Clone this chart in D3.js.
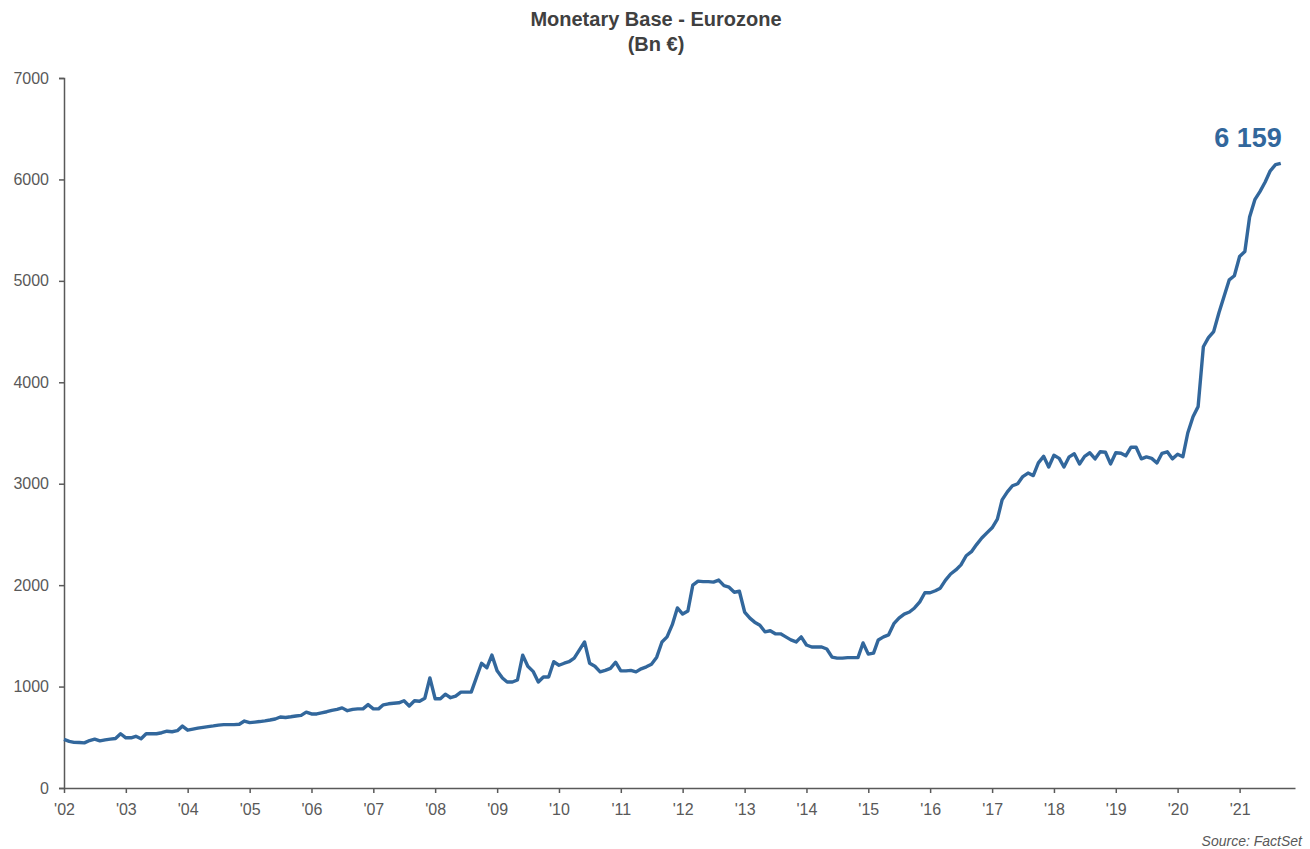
<!DOCTYPE html>
<html>
<head>
<meta charset="utf-8">
<script src="https://cdn.jsdelivr.net/npm/d3@7"></script>
<style>
  html, body { margin: 0; padding: 0; background: #ffffff; }
  svg { display: block; font-family: "Liberation Sans", Arial, sans-serif; }
</style>
</head>
<body>
<svg id="chart" width="1310" height="849"></svg>
<script>
// ---- Data (monthly, Jan 2002 - Sep 2021, Bn €) ----
const startYear = 2002;
const values2002 = [480, 460, 450, 448, 445, 468, 482, 465, 475, 482, 488, 535];
const values2003 = [495, 495, 510, 485, 535, 535, 535, 545, 560, 555, 565, 610];
const values2004 = [570, 580, 590, 598, 605, 612, 620, 625, 625, 625, 628, 660];
const values2005 = [645, 650, 655, 662, 670, 680, 700, 695, 702, 710, 716, 748];
const values2006 = [730, 730, 740, 752, 765, 775, 790, 762, 775, 780, 780, 822];
const values2007 = [780, 780, 820, 830, 835, 840, 860, 808, 860, 855, 885, 1085];
const values2008 = [880, 880, 925, 890, 905, 945, 945, 945, 1090, 1230, 1185, 1310];
const values2009 = [1155, 1085, 1045, 1045, 1065, 1310, 1200, 1150, 1045, 1095, 1095, 1245];
const values2010 = [1210, 1230, 1245, 1280, 1360, 1440, 1230, 1200, 1145, 1160, 1180, 1240];
const values2011 = [1155, 1155, 1160, 1145, 1175, 1195, 1220, 1290, 1440, 1490, 1610, 1775];
const values2012 = [1715, 1745, 2000, 2040, 2035, 2035, 2030, 2050, 1995, 1980, 1930, 1940];
const values2013 = [1735, 1675, 1635, 1605, 1540, 1550, 1520, 1520, 1490, 1460, 1440, 1490];
const values2014 = [1410, 1390, 1390, 1390, 1370, 1290, 1280, 1280, 1285, 1285, 1285, 1430];
const values2015 = [1320, 1330, 1460, 1490, 1510, 1620, 1675, 1715, 1735, 1775, 1835, 1925];
const values2016 = [1925, 1945, 1970, 2050, 2110, 2150, 2200, 2290, 2330, 2400, 2465, 2515];
const values2017 = [2565, 2650, 2840, 2920, 2980, 3000, 3070, 3105, 3080, 3205, 3270, 3165];
const values2018 = [3280, 3250, 3165, 3265, 3295, 3195, 3270, 3305, 3245, 3315, 3310, 3195];
const values2019 = [3305, 3300, 3275, 3360, 3360, 3245, 3265, 3250, 3205, 3300, 3315, 3245];
const values2020 = [3290, 3265, 3500, 3660, 3760, 4350, 4440, 4500, 4685, 4845, 5010, 5050];
const values2021 = [5240, 5290, 5630, 5800, 5880, 5975, 6085, 6145, 6159];

const yTicks = [0, 1000, 2000, 3000, 4000, 5000, 6000, 7000];
const xTickYears = d3.range(2002, 2022);
const titleLines = ["Monetary Base - Eurozone", "(Bn €)"];
const lastLabel = "6 159";
const sourceText = "Source: FactSet";

// ---- Build series ----
const allValues = [].concat(values2002, values2003, values2004, values2005, values2006,
  values2007, values2008, values2009, values2010, values2011, values2012, values2013,
  values2014, values2015, values2016, values2017, values2018, values2019, values2020, values2021);
const data = allValues.map((v, i) => ({ date: new Date(startYear, i, 1), value: v }));

// ---- Layout ----
const svg = d3.select("#chart");
const axisColor = "#595959";
const lineColor = "#32679c";

const x = d3.scaleTime()
  .domain([new Date(2002, 0, 1), new Date(2021, 10, 24)])
  .range([64, 1295]);
const y = d3.scaleLinear().domain([0, 7000]).range([788, 78]);

// Title
svg.append("text")
  .attr("x", 656).attr("y", 26)
  .attr("text-anchor", "middle")
  .attr("font-size", 20).attr("font-weight", "bold")
  .attr("fill", "#404040")
  .text(titleLines[0]);
svg.append("text")
  .attr("x", 656).attr("y", 51)
  .attr("text-anchor", "middle")
  .attr("font-size", 20).attr("font-weight", "bold")
  .attr("fill", "#404040")
  .text(titleLines[1]);

// Y axis
const yAxis = d3.axisLeft(y).tickValues(yTicks).tickSize(5).tickPadding(10).tickFormat(d3.format("d"));
const gy = svg.append("g").attr("transform", "translate(64,0)").call(yAxis);
gy.select(".domain").attr("stroke", axisColor).attr("stroke-width", 1.5);
gy.selectAll(".tick line").attr("stroke", axisColor).attr("stroke-width", 1.5);
gy.selectAll(".tick text").attr("fill", "#595959").attr("font-size", 16)
  .attr("font-family", "Liberation Sans, Arial, sans-serif");

// X axis
const xAxis = d3.axisBottom(x)
  .tickValues(xTickYears.map(yr => new Date(yr, 0, 1)))
  .tickSize(5).tickSizeOuter(0).tickPadding(11)
  .tickFormat(d3.timeFormat("'%y"));
const gx = svg.append("g").attr("transform", "translate(0,788)").call(xAxis);
gx.select(".domain").attr("stroke", axisColor).attr("stroke-width", 1.5);
gx.selectAll(".tick line").attr("stroke", axisColor).attr("stroke-width", 1.5);
gx.selectAll(".tick text").attr("fill", "#595959").attr("font-size", 16)
  .attr("font-family", "Liberation Sans, Arial, sans-serif");

// Line
const line = d3.line().x(d => x(d.date)).y(d => y(d.value));
svg.append("path")
  .datum(data)
  .attr("fill", "none")
  .attr("stroke", lineColor)
  .attr("stroke-width", 3.4)
  .attr("stroke-linejoin", "round")
  .attr("d", line);

// Last value label
const last = data[data.length - 1];
svg.append("text")
  .attr("x", x(last.date) + 1)
  .attr("y", y(last.value) - 16)
  .attr("text-anchor", "end")
  .attr("font-size", 27).attr("font-weight", "bold")
  .attr("fill", lineColor)
  .text(lastLabel);

// Source
svg.append("text")
  .attr("x", 1302).attr("y", 846)
  .attr("text-anchor", "end")
  .attr("font-size", 14).attr("font-style", "italic")
  .attr("fill", "#595959")
  .text(sourceText);
</script>
</body>
</html>
